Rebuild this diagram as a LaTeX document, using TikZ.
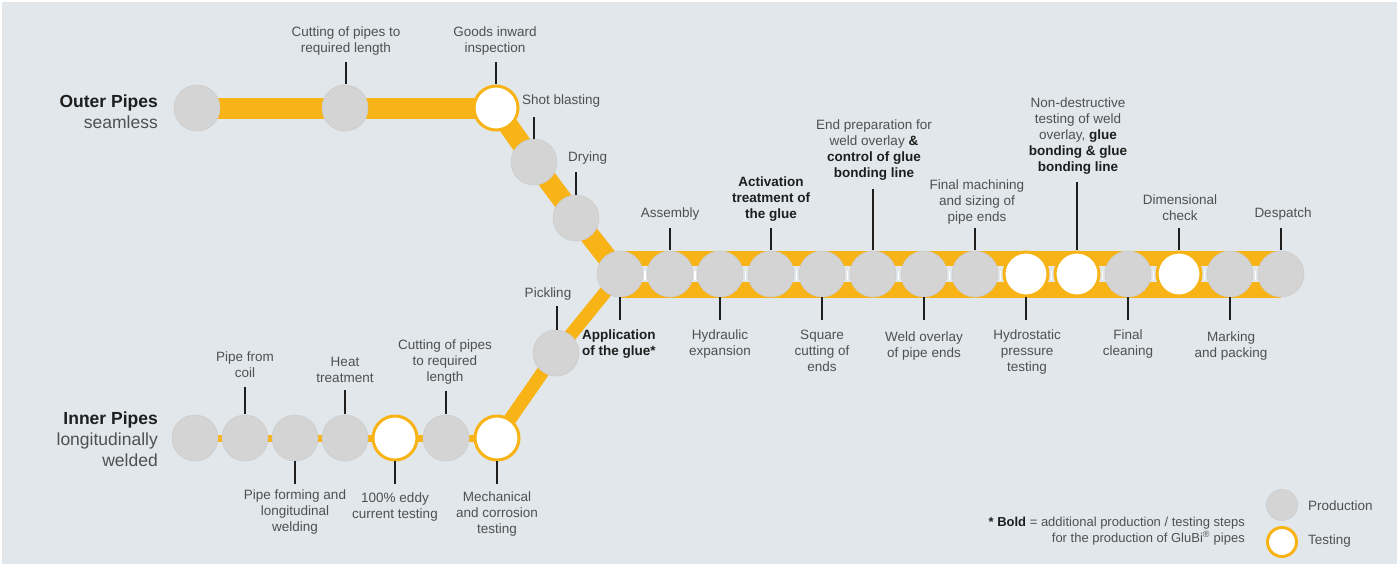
\documentclass[tikz,border=0pt]{standalone}
\usepackage{fontspec}
\setmainfont{Liberation Sans}
\usetikzlibrary{calc}
\definecolor{bg}{RGB}{225,231,234}
\definecolor{ylw}{RGB}{248,179,22}
\definecolor{cgray}{RGB}{212,212,212}
\definecolor{txt}{RGB}{80,80,80}
\definecolor{dark}{RGB}{30,30,30}
\begin{document}
\begin{tikzpicture}[x=1pt,y=-1pt,
  prod/.style={circle,fill=cgray,draw=black!20,line width=0.6pt,minimum size=46pt,inner sep=0pt},
  test/.style={circle,fill=white,draw=ylw,line width=3pt,minimum size=44pt,inner sep=0pt},
  lprod/.style={prod,minimum size=31pt},
  ltest/.style={test,minimum size=29pt},
  lbl/.style={font=\fontsize{13.5}{16}\selectfont,text=txt,align=center,inner sep=0pt,
    execute at begin node=\strut,execute at end node=\strut},
  blbl/.style={lbl,text=dark,font=\fontsize{13.5}{16}\selectfont\bfseries},
  big/.style={font=\fontsize{17.5}{21}\selectfont,text=txt,align=right,inner sep=0pt},
  tickline/.style={draw=dark,line width=2pt},
  pipeline/.style={draw=ylw,line cap=butt,line join=round}
]
\useasboundingbox (0,0) rectangle (1399,566);
\fill[white] (0,0) rectangle (1399,566);
\fill[bg] (2,2) rectangle (1397,564);

% ---- circle positions (coordinates first, drawn later) ----
\coordinate (o1) at (197,108);
\coordinate (o2) at (345,108);
\coordinate (o3) at (496,108);
\coordinate (sb) at (534,162);
\coordinate (dr) at (576,218);
\foreach \n/\x in {1/620,2/670,3/720,4/771,5/822,6/873,7/924,8/975,9/1026,10/1077,11/1128,12/1179,13/1230,14/1281}
  \coordinate (m\n) at (\x,274);
\foreach \n/\x in {1/195,2/245,3/295,4/345,5/395,6/446,7/497}
  \coordinate (i\n) at (\x,438);
\coordinate (pk) at (556,353);

% ---- yellow pipes ----
\draw[pipeline,line width=21pt] (o1) -- (o3);
\draw[pipeline,line width=20pt] (o3) -- (sb) -- (dr) -- (m1);
\draw[pipeline,line width=7pt] (i1) -- (i7);
\draw[pipeline,line width=13pt] (i7) -- (pk) -- (m1);
\draw[pipeline,line width=47pt] (m1) -- (m14);
\draw[bg,line width=16pt] (m1) -- (m14);
\foreach \a/\b in {m1/m2,m2/m3,m3/m4,m4/m5,m5/m6,m6/m7,m7/m8,m8/m9,m9/m10,m10/m11,m11/m12,m12/m13,m13/m14}
  \draw[white,line width=1.5pt] ($(\a)!0.5!(\b)$) ++(0,-3) -- ++(0,9);

% ---- circles ----
\node[prod] (co1) at (o1) {};
\node[prod] (co2) at (o2) {};
\node[test] (co3) at (o3) {};
\node[prod] (csb) at (sb) {};
\node[prod] (cdr) at (dr) {};
\foreach \n in {1,2,3,4,5,6,7,8,11,13,14} \node[prod] (cm\n) at (m\n) {};
\foreach \n in {9,10,12} \node[test] (cm\n) at (m\n) {};
\foreach \n in {1,2,3,4,6} \node[prod] (ci\n) at (i\n) {};
\foreach \n in {5,7} \node[test] (ci\n) at (i\n) {};
\node[prod] (cpk) at (pk) {};

% ---- group titles ----
\node[big,anchor=east] (tout) at (158,112) {\textbf{\textcolor{dark}{Outer Pipes}}\\seamless};
\node[big,anchor=east] (tin) at (158,439) {\textbf{\textcolor{dark}{Inner Pipes}}\\longitudinally\\welded};

% ---- outer pipe labels ----
\node[lbl,anchor=south] (l_o2) at (346,57) {Cutting of pipes to\\required length};
\draw[tickline] (346,62) -- (346,84);
\node[lbl,anchor=south] (l_o3) at (495,57) {Goods inward\\inspection};
\draw[tickline] (496,62) -- (496,84);
\node[lbl,anchor=south west] (l_sb) at (522,109) {Shot blasting};
\draw[tickline] (534,117) -- (534,139);
\node[lbl,anchor=south west] (l_dr) at (568,166) {Drying};
\draw[tickline] (576,172) -- (576,195);

% ---- main line top labels ----
\node[lbl,anchor=south] (l_m2) at (670,222) {Assembly};
\draw[tickline] (670,228) -- (670,250);
\node[blbl,anchor=south] (l_m4) at (771,223) {Activation\\treatment of\\the glue};
\draw[tickline] (771,228) -- (771,250);
\node[lbl,anchor=south] (l_m6) at (874,182) {End preparation for\\weld overlay \textbf{\textcolor{dark}{\&}}\\\textbf{\textcolor{dark}{control of glue}}\\\textbf{\textcolor{dark}{bonding line}}};
\draw[tickline] (873,189) -- (873,250);
\node[lbl,anchor=south] (l_m8) at (977,226) {Final machining\\and sizing of\\pipe ends};
\draw[tickline] (975,228) -- (975,250);
\node[lbl,anchor=south] (l_m10) at (1078,176) {Non-destructive\\testing of weld\\overlay, \textbf{\textcolor{dark}{glue}}\\\textbf{\textcolor{dark}{bonding \& glue}}\\\textbf{\textcolor{dark}{bonding line}}};
\draw[tickline] (1077,182) -- (1077,250);
\node[lbl,anchor=south] (l_m12) at (1180,225) {Dimensional\\check};
\draw[tickline] (1179,228) -- (1179,250);
\node[lbl,anchor=south] (l_m14) at (1283,222) {Despatch};
\draw[tickline] (1281,228) -- (1281,250);

% ---- main line bottom labels ----
\node[blbl,anchor=north west,align=left] (l_m1) at (582,330) {Application\\of the glue*};
\draw[tickline] (620,297) -- (620,320);
\node[lbl,anchor=north] (l_m3) at (720,330) {Hydraulic\\expansion};
\draw[tickline] (720,297) -- (720,320);
\node[lbl,anchor=north] (l_m5) at (822,330) {Square\\cutting of\\ends};
\draw[tickline] (822,297) -- (822,320);
\node[lbl,anchor=north] (l_m7) at (924,332) {Weld overlay\\of pipe ends};
\draw[tickline] (924,297) -- (924,320);
\node[lbl,anchor=north] (l_m9) at (1027,330) {Hydrostatic\\pressure\\testing};
\draw[tickline] (1026,297) -- (1026,320);
\node[lbl,anchor=north] (l_m11) at (1128,330) {Final\\cleaning};
\draw[tickline] (1128,297) -- (1128,320);
\node[lbl,anchor=north] (l_m13) at (1231,332) {Marking\\and packing};
\draw[tickline] (1230,297) -- (1230,320);

% ---- inner pipe labels ----
\node[lbl,anchor=south] (l_pk) at (548,302) {Pickling};
\draw[tickline] (557,306) -- (557,330);
\node[lbl,anchor=south] (l_i2) at (245,382) {Pipe from\\coil};
\draw[tickline] (245,387) -- (245,414);
\node[lbl,anchor=south] (l_i4) at (345,387) {Heat\\treatment};
\draw[tickline] (345,390) -- (345,414);
\node[lbl,anchor=south] (l_i6) at (445,386) {Cutting of pipes\\to required\\length};
\draw[tickline] (446,391) -- (446,414);
\node[lbl,anchor=north] (l_i3) at (295,490) {Pipe forming and\\longitudinal\\welding};
\draw[tickline] (295,461) -- (295,484);
\node[lbl,anchor=north] (l_i5) at (395,493) {100\% eddy\\current testing};
\draw[tickline] (395,461) -- (395,484);
\node[lbl,anchor=north] (l_i7) at (497,492) {Mechanical\\and corrosion\\testing};
\draw[tickline] (497,461) -- (497,484);

% ---- legend ----
\node[lprod] (lgp) at (1282,505) {};
\node[ltest] (lgt) at (1282,542) {};
\node[lbl,anchor=west] (lgpt) at (1308,507) {Production};
\node[lbl,anchor=west] (lgtt) at (1308,541) {Testing};
\node[lbl,anchor=east,align=right,font=\fontsize{13}{16}\selectfont] (foot) at (1245,532)
  {\textbf{\textcolor{dark}{* Bold}} = additional production / testing steps\\for the production of GluBi\textsuperscript{®} pipes};
\end{tikzpicture}
\end{document}
